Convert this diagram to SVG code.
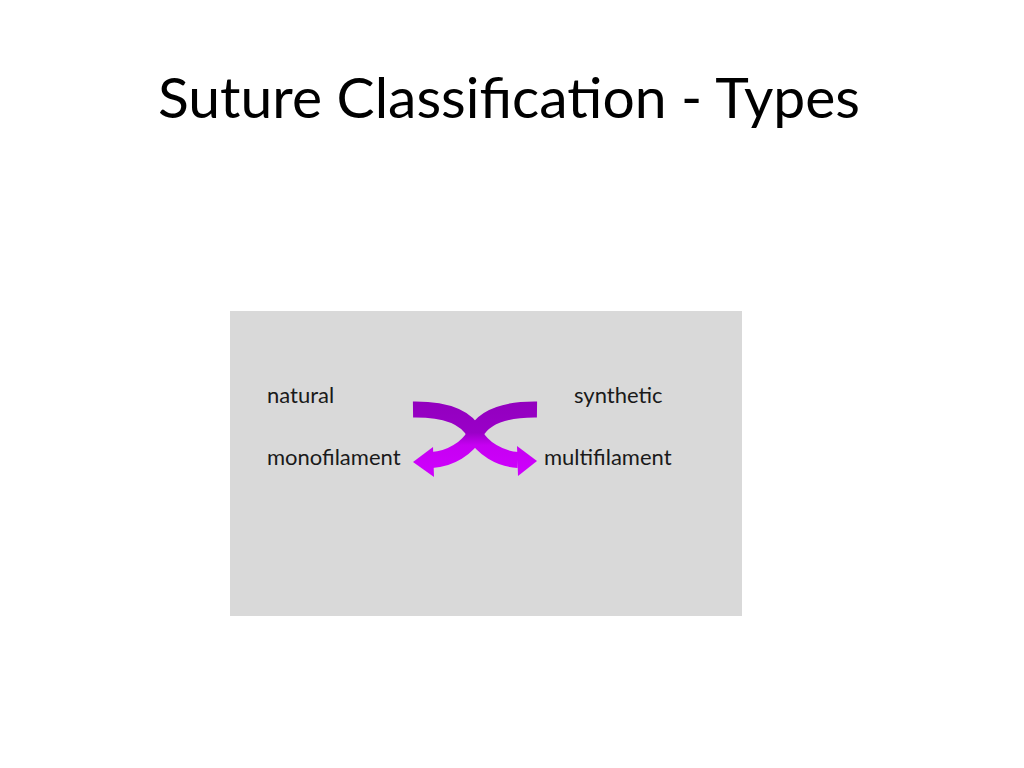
<svg xmlns="http://www.w3.org/2000/svg" width="1024" height="768" viewBox="0 0 1024 768">
<style>
.title{font-family:Lato,"Open Sans","Liberation Sans",sans-serif;font-size:57px;fill:#000}
.lbl{font-family:Lato,"Open Sans","Liberation Sans",sans-serif;font-size:22px;fill:#1a1a1a}
.band{fill:none;stroke:url(#g);stroke-width:16;stroke-linecap:butt}
.head{fill:url(#g)}
</style>
<defs>
<linearGradient id="g" gradientUnits="userSpaceOnUse" x1="0" y1="400" x2="0" y2="478">
<stop offset="0" stop-color="#9200BE"/>
<stop offset="0.42" stop-color="#9A00C8"/>
<stop offset="0.58" stop-color="#C600F2"/>
<stop offset="1" stop-color="#D000FF"/>
</linearGradient>
</defs>
<rect width="1024" height="768" fill="#fff"/>
<text class="title" x="509" y="118" text-anchor="middle">Suture Classification - Types</text>
<rect id="panel" x="230" y="311" width="512" height="305" fill="#D9D9D9"/>
<g id="natural"><text class="lbl" x="267" y="403">natural</text></g>
<g id="synthetic"><text class="lbl" x="574" y="403">synthetic</text></g>
<g id="monofilament"><text class="lbl" x="267" y="465">monofilament</text></g>
<g id="multifilament"><text class="lbl" x="544" y="465">multifilament</text></g>
<g id="connectors">
<path class="band" d="M413,409.5 C450,409 468,420 475,434 C482,448 500,459 518,460"/>
<polygon class="head" points="537,461 517,446 518,476"/>
<path class="band" d="M537,409.5 C500,409 482,420 475,434 C468,448 450,459 432,460"/>
<polygon class="head" points="413,462 433,447 434,477"/>
</g>
</svg>
